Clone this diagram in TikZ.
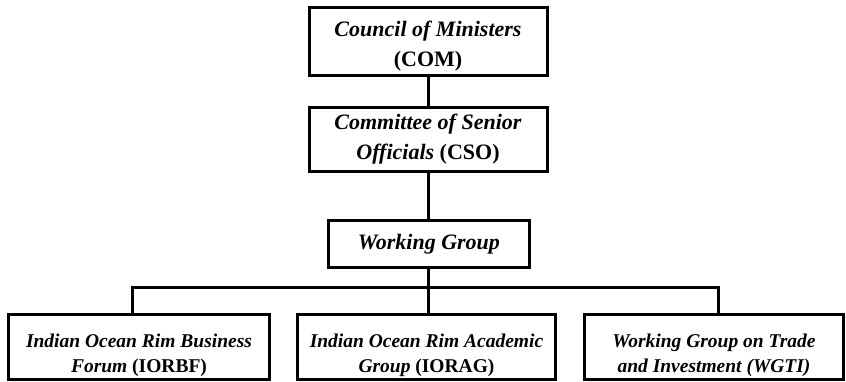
\documentclass[tikz,border=0pt]{standalone}
\usepackage{fontspec}
\setmainfont{Liberation Serif}
\begin{document}
\begin{tikzpicture}[x=1pt,y=-1pt,
  box/.style={draw, line width=3pt, inner sep=0pt, align=center, font=\fontsize{22}{30}\selectfont\bfseries},
  lowbox/.style={draw, line width=3pt, inner sep=0pt, font=\fontsize{19.5}{25}\selectfont\bfseries},
  conn/.style={line width=3pt}]
\useasboundingbox (0,0) rectangle (846,382);
\node[box, minimum width=238pt, minimum height=68pt] (COM) at (428,41.5)
  {\raisebox{-4pt}[\height][\depth]{\begin{tabular}{@{}c@{}}\textit{Council of Ministers}\\(COM)\end{tabular}}};
\node[box, minimum width=238pt, minimum height=64pt] (CSO) at (428,139.5) {\textit{Committee of Senior}\\\textit{Officials} (CSO)};
\node[box, minimum width=201pt, minimum height=47pt] (WG) at (429,244) {\textit{Working Group}};
\node[lowbox, minimum width=261pt, minimum height=65pt] (L) at (139,347)
  {\raisebox{-8pt}[\height][\depth]{\begin{tabular}{@{}c@{}}\textit{Indian Ocean Rim Business}\\\textit{Forum} (IORBF)\end{tabular}}};
\node[lowbox, minimum width=258pt, minimum height=65pt] (M) at (426.5,347)
  {\raisebox{-8pt}[\height][\depth]{\begin{tabular}{@{}c@{}}\textit{Indian Ocean Rim Academic}\\\textit{Group} (IORAG)\end{tabular}}};
\node[lowbox, minimum width=259pt, minimum height=65pt] (R) at (714,347)
  {\raisebox{-8pt}[\height][\depth]{\begin{tabular}{@{}c@{}}\textit{Working Group on Trade}\\\textit{and Investment (WGTI)}\end{tabular}}};
\coordinate (bl) at (132,287);
\coordinate (br) at (718,287);
\draw[conn] (COM.south -| 428,0) -- (CSO.north -| 428,0);
\draw[conn] (CSO.south -| 428,0) -- (WG.north -| 428,0);
\draw[conn] (WG.south -| 428,0) -- (M.north -| 428,0);
\draw[conn] (bl |- L.north) -- (bl) -- (br) -- (br |- R.north);
\end{tikzpicture}
\end{document}
